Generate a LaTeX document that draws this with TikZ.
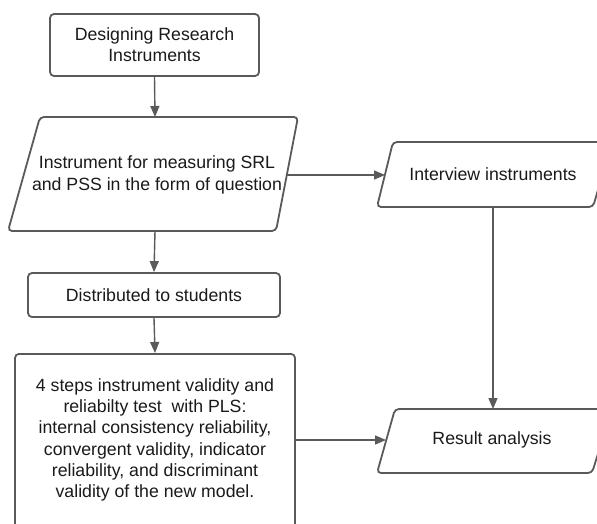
\documentclass[tikz,border=0pt]{standalone}
\usepackage{fontspec}
\setmainfont{Liberation Sans}
\usetikzlibrary{arrows.meta}
\definecolor{ln}{HTML}{5A5A5A}
\definecolor{tx}{HTML}{1A1A1A}
\begin{document}
\begin{tikzpicture}[x=1pt,y=-1pt,
  shp/.style={draw=ln,line width=1.8pt,rounded corners=4pt,fill=white},
  lbl/.style={text=tx,font=\fontsize{17.7}{21.3}\selectfont,align=center,inner sep=0pt},
  arr/.style={draw=ln,line width=1.4pt,-{Triangle[length=11pt,width=9pt]}}]
\useasboundingbox (0,0) rectangle (597,524);
\fill[white] (0,0) rectangle (597,524);
\begin{scope}
\clip (0,0) rectangle (597,524);
% Designing box
\node[shp,lbl,minimum width=209pt,minimum height=62pt] (design) at (154.5,45) {Designing Research\\Instruments};
% Instrument parallelogram
\draw[shp] (40,117) -- (298,117) -- (276,231) -- (8,231) -- cycle;
\coordinate (instrT) at (155,117);
\coordinate (instrB) at (155,231);
\coordinate (instrR) at (287,175);
\node[lbl] (instr) at (157,175) {Instrument for measuring SRL\\and PSS in the form of question};
% Interview parallelogram
\draw[shp] (393,142) -- (612,142) -- (593,207) -- (377,207) -- cycle;
\coordinate (intL) at (385,175);
\coordinate (intB) at (493,207);
\node[lbl] (interview) at (493,174) {Interview instruments};
% Distributed box
\node[shp,lbl,minimum width=252pt,minimum height=44pt] (dist) at (154,295) {Distributed to students};
% Steps box
\node[shp,minimum width=280pt,minimum height=207pt,anchor=north] (stepsbox) at (155,353) {};
\node[lbl] (steps) at (155,440) {4 steps instrument validity and\\reliabilty test~ with PLS:\\internal consistency reliability,\\convergent validity, indicator\\reliability, and discriminant\\validity of the new model.};
% Result parallelogram
\draw[shp] (395,409) -- (612,409) -- (592,473) -- (377,473) -- cycle;
\coordinate (resT) at (493,409);
\coordinate (resL) at (386,440);
\node[lbl] (result) at (492,440) {Result analysis};
% Connectors
\draw[arr] (design.south) -- (instrT);
\draw[arr] (instrB) -- (dist.north);
\draw[arr] (dist.south) -- (stepsbox.north);
\draw[arr] (instrR) -- (intL);
\draw[arr] (intB) -- (resT);
\draw[arr] (stepsbox.east |- resL) -- (resL);
\end{scope}
\end{tikzpicture}
\end{document}
